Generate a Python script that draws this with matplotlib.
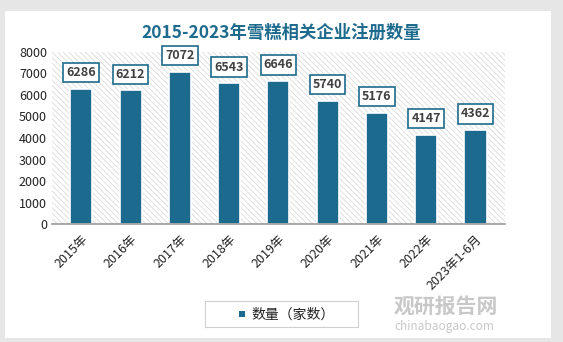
import matplotlib.pyplot as plt
from matplotlib.patches import Rectangle
import numpy as np

plt.rcParams['font.family'] = ['Noto Sans CJK SC', 'DejaVu Sans']
plt.rcParams['hatch.linewidth'] = 0.5
plt.rcParams['hatch.color'] = '#d4d4d4'

# data
years = ['2015年', '2016年', '2017年', '2018年', '2019年', '2020年', '2021年', '2022年', '2023年1-6月']
counts = [6286, 6212, 7072, 6543, 6646, 5740, 5176, 4147, 4362]
series_name = '数量（家数）'
title = '2015-2023年雪糕相关企业注册数量'

bar_color = '#1c6b8e'

fig = plt.figure(figsize=(5.63, 3.42), dpi=100)
fig.patch.set_facecolor('#e6e6e6')
# white card behind everything
fig.patches.append(Rectangle((0.008, 0.012), 0.97, 0.955, transform=fig.transFigure,
                             facecolor='white', edgecolor='none', zorder=-10))

ax = fig.add_axes([0.092, 0.345, 0.805, 0.503])
ax.set_facecolor('none')
x = np.arange(len(years))
ax.add_patch(Rectangle((0, 0), 1, 1, transform=ax.transAxes, facecolor='white',
                       hatch='\\\\\\\\\\\\', edgecolor='#d4d4d4', linewidth=0, zorder=0))
ax.bar(x, counts, width=0.45, color=bar_color, edgecolor='white', linewidth=1.2, zorder=2)

for xi, v in zip(x, counts):
    ax.annotate(str(v), (xi, v), xytext=(0, 7), textcoords='offset points',
                ha='center', va='bottom', fontsize=9, fontweight='bold', color='#404040',
                zorder=4,
                bbox=dict(boxstyle='square,pad=0.25', facecolor='white', edgecolor=bar_color,
                          linewidth=1.2))

ax.set_xlim(-0.6, len(years) - 0.4)
ax.set_ylim(0, 8000)
ax.set_yticks(range(0, 8001, 1000))
ax.set_xticks(x)
ax.set_xticklabels(years, rotation=45, ha='right', rotation_mode='anchor', fontsize=9)
ax.tick_params(axis='both', length=0, colors='#222222')
ax.tick_params(axis='y', labelsize=9)
ax.tick_params(axis='x', pad=6)
for s in ['top', 'right', 'left']:
    ax.spines[s].set_visible(False)
ax.spines['bottom'].set_color('#999999')
ax.spines['bottom'].set_linewidth(1.2)

fig.text(0.5, 0.905, title, ha='center', va='center', fontsize=12.5, fontweight='bold',
         color='#1f6b8e')

# legend
leg_ax = fig.add_axes([0.365, 0.045, 0.27, 0.075])
leg_ax.set_xticks([])
leg_ax.set_yticks([])
for s in leg_ax.spines.values():
    s.set_color('#d0d0d0')
leg_ax.add_patch(Rectangle((0.22, 0.38), 0.04, 0.22, transform=leg_ax.transAxes,
                           facecolor=bar_color, edgecolor='none'))
leg_ax.text(0.3, 0.48, series_name, transform=leg_ax.transAxes, va='center', ha='left',
            fontsize=10, color='#222222')

# watermark
fig.text(0.70, 0.105, '观研报告网', fontsize=15, fontweight='bold', color='#c8c8c8',
         va='center', ha='left')
fig.text(0.70, 0.045, 'chinabaogao.com', fontsize=8.5, color='#c8c8c8', va='center', ha='left')

plt.savefig('out.png', dpi=100, facecolor=fig.get_facecolor())
